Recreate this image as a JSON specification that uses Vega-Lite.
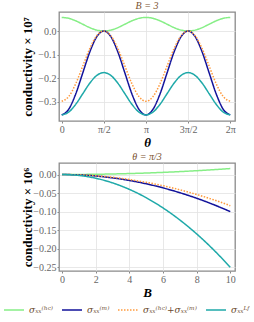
{
  "$schema": "https://vega.github.io/schema/vega-lite/v6.json",
  "padding": {"left": 3, "top": 0, "right": 0, "bottom": 0},
  "spacing": 1,
  "config": {
    "view": {"stroke": "#8a8a8a", "strokeWidth": 1.3},
    "axis": {
      "labelFont": "Liberation Serif", "labelFontSize": 10, "labelColor": "#666",
      "titleFont": "Liberation Serif", "titleFontSize": 13, "titleFontWeight": "bold", "titleColor": "#000",
      "gridColor": "#e2e2e2", "gridWidth": 0.8, "domain": false,
      "tickColor": "#888", "tickSize": 2, "labelPadding": 1
    },
    "title": {"font": "Liberation Serif", "fontSize": 10, "fontStyle": "italic", "fontWeight": "normal", "color": "#7b5230", "offset": 1},
    "legend": {
      "orient": "none", "legendX": -56, "legendY": 287, "direction": "horizontal", "symbolType": "stroke", "symbolSize": 400,
      "symbolStrokeWidth": 1.5, "labelFont": "DejaVu Serif", "labelFontSize": 9, "labelFontStyle": "italic",
      "labelColor": "#6b4a2e", "columnPadding": 5, "labelOffset": 4, "padding": 0
    }
  },
  "vconcat": [
    {
      "width": 176, "height": 109,
      "title": {"text": "B = 3"},
      "data": {"values": [
        {"theta": 0, "hc": 0.058, "m": -0.357, "sum": -0.299, "lf": -0.357},
        {"theta": 0.2618, "hc": 0.0541, "m": -0.3331, "sum": -0.279, "lf": -0.345},
        {"theta": 0.5236, "hc": 0.0435, "m": -0.2678, "sum": -0.2243, "lf": -0.312},
        {"theta": 0.7854, "hc": 0.029, "m": -0.1785, "sum": -0.1495, "lf": -0.267},
        {"theta": 1.0472, "hc": 0.0145, "m": -0.0893, "sum": -0.0748, "lf": -0.222},
        {"theta": 1.309, "hc": 0.0039, "m": -0.0239, "sum": -0.02, "lf": -0.189},
        {"theta": 1.5708, "hc": 0, "m": 0, "sum": 0, "lf": -0.177},
        {"theta": 1.8326, "hc": 0.0039, "m": -0.0239, "sum": -0.02, "lf": -0.189},
        {"theta": 2.0944, "hc": 0.0145, "m": -0.0893, "sum": -0.0748, "lf": -0.222},
        {"theta": 2.3562, "hc": 0.029, "m": -0.1785, "sum": -0.1495, "lf": -0.267},
        {"theta": 2.618, "hc": 0.0435, "m": -0.2678, "sum": -0.2243, "lf": -0.312},
        {"theta": 2.8798, "hc": 0.0541, "m": -0.3331, "sum": -0.279, "lf": -0.345},
        {"theta": 3.1416, "hc": 0.058, "m": -0.357, "sum": -0.299, "lf": -0.357},
        {"theta": 3.4034, "hc": 0.0541, "m": -0.3331, "sum": -0.279, "lf": -0.345},
        {"theta": 3.6652, "hc": 0.0435, "m": -0.2678, "sum": -0.2243, "lf": -0.312},
        {"theta": 3.927, "hc": 0.029, "m": -0.1785, "sum": -0.1495, "lf": -0.267},
        {"theta": 4.1888, "hc": 0.0145, "m": -0.0893, "sum": -0.0748, "lf": -0.222},
        {"theta": 4.4506, "hc": 0.0039, "m": -0.0239, "sum": -0.02, "lf": -0.189},
        {"theta": 4.7124, "hc": 0, "m": 0, "sum": 0, "lf": -0.177},
        {"theta": 4.9742, "hc": 0.0039, "m": -0.0239, "sum": -0.02, "lf": -0.189},
        {"theta": 5.236, "hc": 0.0145, "m": -0.0893, "sum": -0.0748, "lf": -0.222},
        {"theta": 5.4978, "hc": 0.029, "m": -0.1785, "sum": -0.1495, "lf": -0.267},
        {"theta": 5.7596, "hc": 0.0435, "m": -0.2678, "sum": -0.2243, "lf": -0.312},
        {"theta": 6.0214, "hc": 0.0541, "m": -0.3331, "sum": -0.279, "lf": -0.345},
        {"theta": 6.2832, "hc": 0.058, "m": -0.357, "sum": -0.299, "lf": -0.357}
      ]},
      "transform": [{"fold": ["hc", "m", "sum", "lf"], "as": ["series", "value"]}],
      "mark": {"type": "line", "interpolate": "monotone", "strokeWidth": 1.5, "clip": true},
      "encoding": {
        "x": {"field": "theta", "type": "quantitative",
          "scale": {"domain": [-0.1, 6.46], "nice": false, "zero": false},
          "axis": {"title": "θ", "titleFontStyle": "italic", "titlePadding": 2,
            "values": [0, 1.5708, 3.1416, 4.7124, 6.2832],
            "labelExpr": "datum.value < 0.1 ? '0' : datum.value < 2 ? 'π/2' : datum.value < 4 ? 'π' : datum.value < 5 ? '3π/2' : '2π'",
            "gridOpacity": {"condition": {"test": "datum.value < 0.1 || datum.value > 6", "value": 0}, "value": 1}}},
        "y": {"field": "value", "type": "quantitative",
          "scale": {"domain": [-0.383, 0.081], "nice": false},
          "axis": {"title": "conductivity × 10⁷", "values": [0, -0.1, -0.2, -0.3], "format": ".1f", "titleX": -25}},
        "color": {"field": "series", "type": "nominal", "title": null,
          "scale": {"domain": ["hc", "m", "sum", "lf"], "range": ["#86ee86", "#12129a", "#ff9a3c", "#1fa9a9"]},
          "legend": {"labelExpr": "datum.label == 'hc' ? 'σₓₓ⁽ʰᶜ⁾' : datum.label == 'm' ? 'σₓₓ⁽ᵐ⁾' : datum.label == 'sum' ? 'σₓₓ⁽ʰᶜ⁾+σₓₓ⁽ᵐ⁾' : 'σₓₓᴸᶠ'"}},
        "strokeDash": {"field": "series", "type": "nominal", "title": null,
          "scale": {"domain": ["hc", "m", "sum", "lf"], "range": [[1, 0], [1, 0], [1.5, 1.5], [1, 0]]},
          "legend": {"labelExpr": "datum.label == 'hc' ? 'σₓₓ⁽ʰᶜ⁾' : datum.label == 'm' ? 'σₓₓ⁽ᵐ⁾' : datum.label == 'sum' ? 'σₓₓ⁽ʰᶜ⁾+σₓₓ⁽ᵐ⁾' : 'σₓₓᴸᶠ'"}}
      }
    },
    {
      "width": 176, "height": 108,
      "title": {"text": "θ = π/3"},
      "data": {"values": [
        {"B": 0, "hc": 0, "m": 0, "sum": 0, "lf": 0},
        {"B": 1, "hc": 0.00016, "m": -0.001, "sum": -0.00084, "lf": -0.0025},
        {"B": 2, "hc": 0.00064, "m": -0.004, "sum": -0.00336, "lf": -0.01},
        {"B": 3, "hc": 0.00144, "m": -0.009, "sum": -0.00756, "lf": -0.0225},
        {"B": 4, "hc": 0.00256, "m": -0.016, "sum": -0.01344, "lf": -0.04},
        {"B": 5, "hc": 0.004, "m": -0.025, "sum": -0.021, "lf": -0.0625},
        {"B": 6, "hc": 0.00576, "m": -0.036, "sum": -0.03024, "lf": -0.09},
        {"B": 7, "hc": 0.00784, "m": -0.049, "sum": -0.04116, "lf": -0.1225},
        {"B": 8, "hc": 0.01024, "m": -0.064, "sum": -0.05376, "lf": -0.16},
        {"B": 9, "hc": 0.01296, "m": -0.081, "sum": -0.06804, "lf": -0.2025},
        {"B": 10, "hc": 0.016, "m": -0.1, "sum": -0.084, "lf": -0.25}
      ]},
      "transform": [{"fold": ["hc", "m", "sum", "lf"], "as": ["series", "value"]}],
      "mark": {"type": "line", "interpolate": "monotone", "strokeWidth": 1.5, "clip": true},
      "encoding": {
        "x": {"field": "B", "type": "quantitative",
          "scale": {"domain": [-0.18, 10.28], "nice": false, "zero": false},
          "axis": {"title": "B", "titleFontStyle": "italic", "titlePadding": 2,
            "values": [0, 2, 4, 6, 8, 10], "format": "d",
            "gridOpacity": {"condition": {"test": "datum.value < 0.5 || datum.value > 9.5", "value": 0}, "value": 1}}},
        "y": {"field": "value", "type": "quantitative",
          "scale": {"domain": [-0.26, 0.031], "nice": false},
          "axis": {"title": "conductivity × 10⁶", "values": [0, -0.05, -0.1, -0.15, -0.2, -0.25], "format": ".2f", "titleX": -25}},
        "color": {"field": "series", "type": "nominal", "title": null,
          "scale": {"domain": ["hc", "m", "sum", "lf"], "range": ["#86ee86", "#12129a", "#ff9a3c", "#1fa9a9"]},
          "legend": {"labelExpr": "datum.label == 'hc' ? 'σₓₓ⁽ʰᶜ⁾' : datum.label == 'm' ? 'σₓₓ⁽ᵐ⁾' : datum.label == 'sum' ? 'σₓₓ⁽ʰᶜ⁾+σₓₓ⁽ᵐ⁾' : 'σₓₓᴸᶠ'"}},
        "strokeDash": {"field": "series", "type": "nominal", "title": null,
          "scale": {"domain": ["hc", "m", "sum", "lf"], "range": [[1, 0], [1, 0], [1.5, 1.5], [1, 0]]},
          "legend": {"labelExpr": "datum.label == 'hc' ? 'σₓₓ⁽ʰᶜ⁾' : datum.label == 'm' ? 'σₓₓ⁽ᵐ⁾' : datum.label == 'sum' ? 'σₓₓ⁽ʰᶜ⁾+σₓₓ⁽ᵐ⁾' : 'σₓₓᴸᶠ'"}}
      }
    }
  ]
}
